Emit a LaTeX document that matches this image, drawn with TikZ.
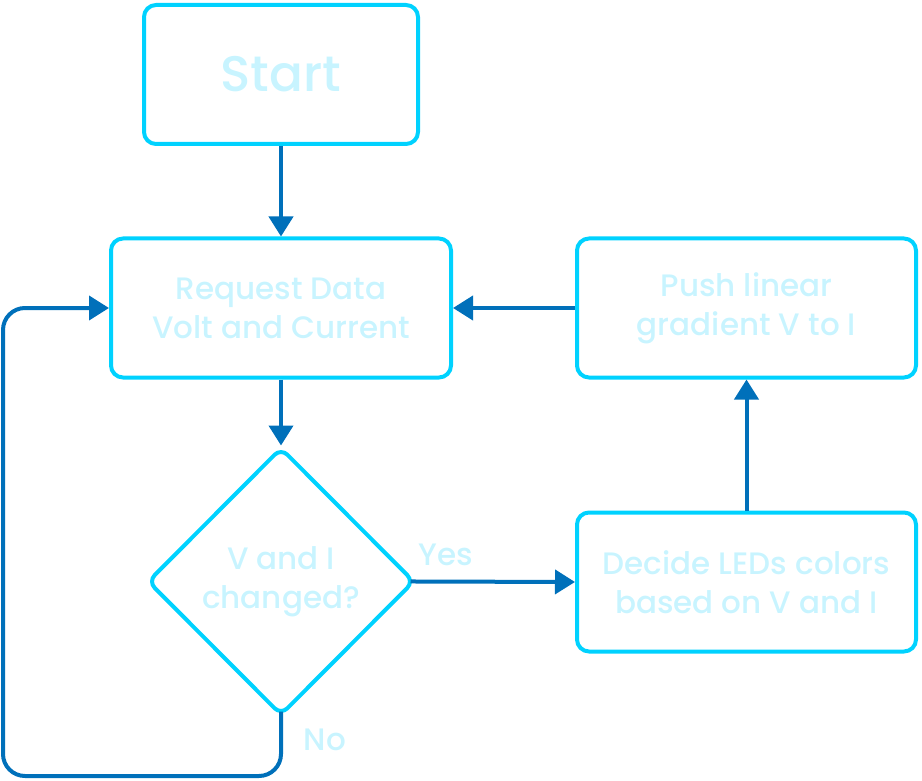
\documentclass[tikz,border=0pt]{standalone}
\usepackage{fontspec}
\setmainfont{Poppins Medium}
\usetikzlibrary{arrows.meta}
\usetikzlibrary{shapes.geometric}
\definecolor{boxline}{HTML}{00D2FF}
\definecolor{boxtext}{HTML}{C8F4FF}
\definecolor{flowline}{HTML}{0070BA}
\begin{document}
\begin{tikzpicture}[x=1pt,y=-1pt,
    block/.style={draw=boxline,line width=4pt,rounded corners=12pt,text=boxtext,
        align=center,font=\fontsize{31}{39}\selectfont,minimum height=139pt},
    cond/.style={diamond,draw=boxline,line width=4pt,rounded corners=9pt,text=boxtext,
        align=center,font=\fontsize{31}{39}\selectfont,inner sep=0pt,
        minimum width=267pt,minimum height=268pt},
    flow/.style={draw=flowline,line width=4pt,-{Triangle[length=20pt,width=24pt]}},
    tag/.style={text=boxtext,font=\fontsize{31}{39}\selectfont}]
    \useasboundingbox (0,0) rectangle (922,781);
    % boxes
    \node[block,minimum width=274pt,font=\fontsize{50}{52}\selectfont] (start) at (281,74.5) {Start};
    \node[block,minimum width=340pt] (req) at (281,308) {Request Data\\Volt and Current};
    \node[block,minimum width=339pt] (push) at (746.5,308) {Push linear\\gradient V to I};
    \node[block,minimum width=339pt] (decide) at (746.5,582) {Decide LEDs colors\\based on V and I};
    \node[cond] (dec) at (281,581.5) {V and I\\changed?};
    \coordinate (loop) at (3,776);
    % connectors
    \draw[flow] (start.south) -- (req.north);
    \draw[flow] (req.south) -- (dec.north);
    \draw[flow,shorten <=-6pt] (dec.east) -- (decide.west);
    \draw[flow] (decide.north) -- (push.south);
    \draw[flow] (push.west) -- (req.west -| req.east);
    \draw[flow,shorten <=-6pt,rounded corners=22pt] (dec.south) |- (loop) |- (req.west);
    % labels
    \node[tag] (yes) at (446,555) {Yes};
    \node[tag] (no) at (325,740) {No};
\end{tikzpicture}
\end{document}
